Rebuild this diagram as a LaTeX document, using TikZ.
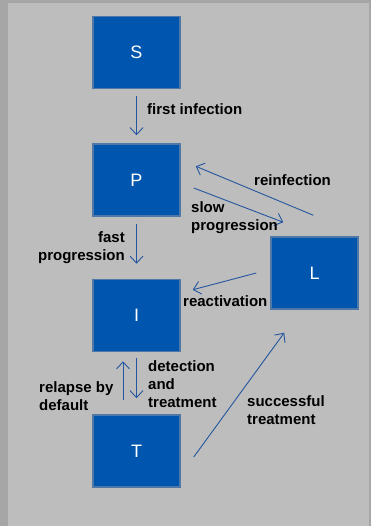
\documentclass[tikz,border=0pt]{standalone}
\usepackage{fontspec}
\setmainfont{Liberation Sans}
\usetikzlibrary{arrows.meta,calc}
\definecolor{outerbg}{HTML}{A6A6A6}
\definecolor{innerbg}{HTML}{BDBDBD}
\definecolor{boxfill}{HTML}{0055AE}
\definecolor{boxedge}{HTML}{5078A6}
\definecolor{arrowblue}{HTML}{2456A0}
\tikzset{
  state/.style={draw=boxedge, line width=1.5pt, fill=boxfill, minimum width=87pt, minimum height=72pt, inner sep=0pt, text=white, font=\fontsize{18}{20}\selectfont},
  lbl/.style={inner sep=0pt, font=\fontsize{15}{18}\selectfont\bfseries, text=black},
  arr/.style={draw=arrowblue, line width=0.9pt, -{Straight Barb[length=7pt,width=13pt]}}
}
\begin{document}
\begin{tikzpicture}[x=1pt,y=-1pt]
\fill[outerbg] (0,0) rectangle (371,526);
\fill[innerbg] (8,3) rectangle (369,526);
\useasboundingbox (0,0) rectangle (371,526);

\node[state] (S) at (136.5,52.5) {S};
\node[state] (P) at (136.5,180) {P};
\node[state] (I) at (136.5,315.5) {I};
\node[state] (T) at (136.5,451) {T};
\node[state] (L) at (314.5,273) {L};

% vertical arrows
\draw[arr] ($(S.south)+(0,7)$) -- ($(P.north)+(0,-8)$);
\draw[arr] ($(P.south)+(0,7)$) -- ($(I.north)+(0,-15)$);
\draw[arr] ($(T.north)+(-13.5,-14)$) -- ($(I.south)+(-13.5,9)$);
\draw[arr] ($(I.south)+(0,6)$) -- ($(T.north)+(0,-16)$);

% diagonal arrows
\draw[arr] ($(L.north west)+(43,-21)$) -- ($(P.north east)+(15,23)$);
\draw[arr] ($(P.east)+(13,8)$) -- ($(L.north west)+(13,-14)$);
\draw[arr] ($(L.west)+(-14,0)$) -- ($(I.north east)+(12,11)$);
\draw[arr] ($(T.east)+(13,6)$) -- ($(L.south west)+(14,23)$);

% labels
\node[lbl, anchor=west] (l1) at (147,109) {first infection};
\node[lbl, anchor=west] (l2) at (254,180) {reinfection};
\node[lbl, anchor=west, align=left] (l3) at (191,218) {slow\\progression};
\node[lbl, anchor=east, align=right] (l4) at (125,248) {fast\\progression};
\node[lbl, anchor=west] (l5) at (183,301) {reactivation};
\node[lbl, anchor=west, align=left] (l6) at (39,396) {relapse by\\default};
\node[lbl, anchor=west, align=left] (l7) at (148,384) {detection\\and\\treatment};
\node[lbl, anchor=west, align=left] (l8) at (247,410) {successful\\treatment};
\end{tikzpicture}
\end{document}
